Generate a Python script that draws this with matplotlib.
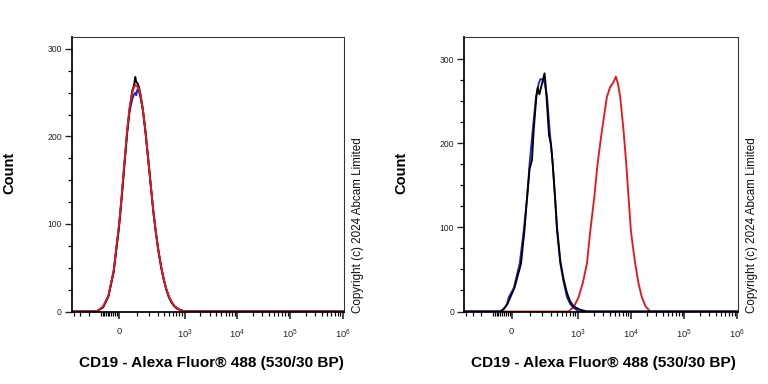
import numpy as np
import matplotlib
matplotlib.use('Agg')
import matplotlib.pyplot as plt
from matplotlib.ticker import FixedLocator, NullFormatter

plt.rcParams['font.family'] = ['Liberation Sans', 'DejaVu Sans']
plt.rcParams['mathtext.fontset'] = 'custom'
plt.rcParams['mathtext.rm'] = 'Liberation Sans'
plt.rcParams['mathtext.it'] = 'Liberation Sans'

# Data (fluorescence intensity, count)
# left panel: all three histograms overlap
left_x = [-440, -150, -120, -86, -55, -27, 0, 13, 27, 41, 55, 70, 80, 89, 95, 103,
          112, 122, 142, 164, 187, 214, 245, 276, 310, 354, 400, 449, 500, 569,
          640, 720, 800, 907, 1000, 1.05e6]
left_black = [0, 0, 1, 5, 17, 45, 96, 128, 166, 202, 231, 252, 258, 268, 262, 261,
              257, 250, 230, 205, 176, 145, 113, 90, 70, 50, 36, 25, 17, 10,
              6, 4, 2, 1, 0, 0]
left_blue = [0, 0, 1, 5, 18, 46, 98, 130, 168, 204, 229, 242, 248, 250, 247, 254,
             252, 246, 232, 207, 178, 146, 114, 90, 69, 50, 35, 24, 16, 10,
             6, 3, 2, 1, 0, 0]
left_red = [0, 0, 1, 6, 18, 47, 99, 131, 169, 206, 233, 250, 256, 259, 258, 257,
            254, 250, 232, 206, 177, 146, 114, 90, 70, 51, 36, 25, 17, 11,
            6, 4, 2, 1, 0, 0]

# right panel
blue_r_x = [-450, -58, -40, -23, -14, 11, 41, 63, 83, 99, 120, 145, 168, 183, 205, 225,
            254, 287, 330, 367, 402, 466, 540, 626, 720, 814, 1042, 1.05e6]
blue_r_y = [0, 0, 3, 9, 17, 28, 57, 96, 136, 176, 215, 255, 271, 276, 276, 272,
            255, 215, 176, 136, 96, 57, 35, 17, 9, 5, 0, 0]
black_r_x = [-450, -58, -40, -23, 14, 48, 67, 83, 99, 115, 127, 148, 159, 174, 199, 225,
             237, 254, 278, 306, 330, 367, 402, 466, 540, 626, 720, 838, 1120, 1495, 1.05e6]
black_r_y = [0, 0, 3, 8, 28, 57, 96, 136, 170, 180, 215, 255, 266, 258, 271, 283,
             270, 245, 210, 198, 176, 136, 100, 60, 38, 22, 12, 6, 2, 0, 0]
red_r_x = [-450, 674, 850, 1042, 1250, 1495, 1730, 2057, 2374, 2864, 3553, 4107, 4600,
           5244, 5716, 6319, 7303, 8199, 9063, 10028, 11000, 12087, 14000, 16129,
           19000, 23104, 1.05e6]
red_r_y = [0, 0, 6, 17, 34, 57, 96, 136, 176, 215, 255, 267, 271,
           279, 271, 255, 215, 176, 136, 96, 76, 57, 33, 17,
           6, 0, 0]

major_ticks = [0, 1e3, 1e4, 1e5, 1e6]
major_labels = ['0', r'$10^3$', r'$10^4$', r'$10^5$', r'$10^6$']

BLACK = '#000000'
BLUE = '#2323c8'
RED = '#e3191c'

K = 115.0


def fwd(x):
    return np.arcsinh(np.asarray(x, dtype=float) / K) / np.log(10)


def inv(p):
    return K * np.sinh(np.asarray(p, dtype=float) * np.log(10))


minor_ticks = [-400, -300, -200, -100] + list(range(-90, 0, 10)) + list(range(100, 1000, 100))
for k in [3, 4, 5]:
    minor_ticks += [m * 10 ** k for m in range(2, 10)]


def style_axes(ax, ymax):
    ax.set_xscale('function', functions=(fwd, inv))
    ax.set_xlim(-445, 1.05e6)
    ax.set_ylim(0, ymax)
    ax.xaxis.set_major_locator(FixedLocator(major_ticks))
    ax.set_xticklabels(major_labels)
    ax.xaxis.set_minor_locator(FixedLocator(minor_ticks))
    ax.xaxis.set_minor_formatter(NullFormatter())
    ax.set_yticks([0, 100, 200, 300])
    ax.yaxis.set_minor_locator(FixedLocator([25, 50, 75, 125, 150, 175, 225, 250, 275]))
    ax.tick_params(axis='x', which='major', direction='out', length=5, width=1.2,
                   pad=7, labelsize=7, colors='#222222')
    ax.tick_params(axis='x', which='minor', direction='out', length=3, width=0.9)
    ax.tick_params(axis='y', which='major', direction='out', length=5.5, width=1.0,
                   pad=2, labelsize=6.5, colors='#222222')
    ax.tick_params(axis='y', which='minor', direction='out', length=3, width=0.9)
    for s in ['top', 'right']:
        ax.spines[s].set_linewidth(0.8)
        ax.spines[s].set_color('#333333')
    for s in ['left', 'bottom']:
        ax.spines[s].set_linewidth(1.3)


fig = plt.figure(figsize=(8, 4), dpi=96)
W, H = 768.0, 384.0
bottom = 1 - 311.5 / H
height = (311.5 - 36.7) / H

ax1 = fig.add_axes([71.7 / W, bottom, (344 - 71.7) / W, height])
ax1.plot(left_x, left_blue, color=BLUE, lw=1.4)
ax1.plot(left_x, left_black, color=BLACK, lw=1.4)
ax1.plot(left_x, left_red, color=RED, lw=1.4)
style_axes(ax1, 314)

ax2 = fig.add_axes([464 / W, bottom, (738.3 - 464) / W, height])
ax2.plot(red_r_x, red_r_y, color=RED, lw=1.4)
ax2.plot(blue_r_x, blue_r_y, color=BLUE, lw=1.4)
ax2.plot(black_r_x, black_r_y, color=BLACK, lw=1.4)
style_axes(ax2, 326.5)

xlabel = 'CD19 - Alexa Fluor® 488 (530/30 BP)'
fig.text(211 / W, 1 - 363 / H, xlabel, ha='center', va='center',
         fontsize=11.5, fontweight='bold')
fig.text(603 / W, 1 - 363 / H, xlabel, ha='center', va='center',
         fontsize=11.5, fontweight='bold')

fig.text(9 / W, 1 - 173 / H, 'Count', rotation=90, ha='center', va='center',
         fontsize=11, fontweight='bold')
fig.text(401 / W, 1 - 173 / H, 'Count', rotation=90, ha='center', va='center',
         fontsize=11, fontweight='bold')

copy = 'Copyright (c) 2024 Abcam Limited'
fig.text(357.5 / W, 1 - 313 / H, copy, rotation=90, ha='center', va='bottom',
         fontsize=8.7, color='#111111')
fig.text(752.5 / W, 1 - 313 / H, copy, rotation=90, ha='center', va='bottom',
         fontsize=8.7, color='#111111')

fig.savefig('out.png', dpi=96)
